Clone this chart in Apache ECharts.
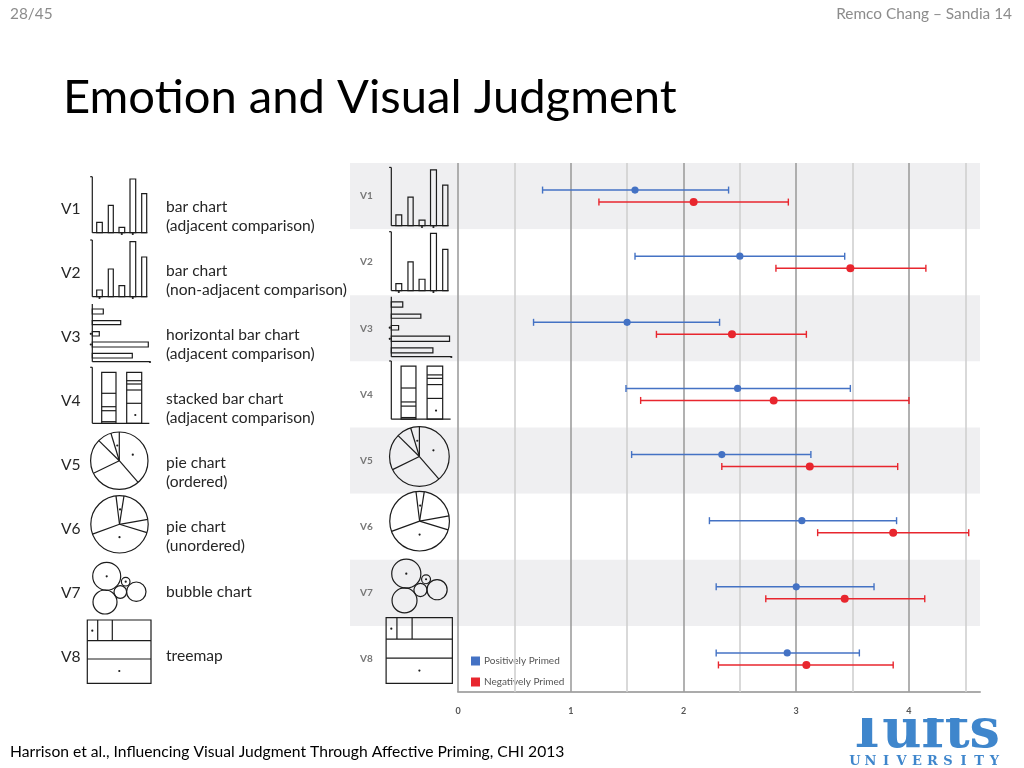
<!DOCTYPE html>
<html><head><meta charset="utf-8">
<script src="https://cdn.jsdelivr.net/npm/echarts@6/dist/echarts.min.js"></script>
<style>html,body{margin:0;padding:0;background:#fff}#c{width:1024px;height:768px}</style>
</head><body><div id="c"></div><script>
// ---------------- data ----------------
const rows = ['V1','V2','V3','V4','V5','V6','V7','V8'];
const descriptions = [
  ['bar chart','(adjacent comparison)'],
  ['bar chart','(non-adjacent comparison)'],
  ['horizontal bar chart','(adjacent comparison)'],
  ['stacked bar chart','(adjacent comparison)'],
  ['pie chart','(ordered)'],
  ['pie chart','(unordered)'],
  ['bubble chart'],
  ['treemap']
];
const seriesNames = ['Positively Primed','Negatively Primed'];
const posMean = [1.57, 2.50, 1.50, 2.48, 2.34, 3.05, 3.00, 2.92];
const posLow  = [0.75, 1.57, 0.67, 1.49, 1.54, 2.23, 2.29, 2.29];
const posHigh = [2.40, 3.43, 2.32, 3.48, 3.13, 3.89, 3.69, 3.56];
const negMean = [2.09, 3.48, 2.43, 2.80, 3.12, 3.86, 3.43, 3.09];
const negLow  = [1.25, 2.82, 1.76, 1.62, 2.34, 3.19, 2.73, 2.31];
const negHigh = [2.93, 4.15, 3.09, 4.00, 3.90, 4.53, 4.14, 3.86];
const xTicks = [0, 1, 2, 3, 4];
const gridValues = [0, 0.5, 1, 1.5, 2, 2.5, 3, 3.5, 4, 4.5];
const slideTitle = 'Emotion and Visual Judgment';
const pageLabel = '28/45';
const headerRight = 'Remco Chang \u2013 Sandia 14';
const footer = 'Harrison et al., Influencing Visual Judgment Through Affective Priming, CHI 2013';
const logoWord = 'Tufts';
const logoSub = 'UNIVERSITY';

// ---------------- pictograms (decorative) ----------------
const icons = [
  [['L',0.3,0.7,0.3,56.7],['L',0.3,56.7,55.3,56.7],['L',-1.8,0.7,0.3,0.7],
   ['R',4.7,46.3,5.6,10.4],['R',16.3,29.3,5,27.4],['R',27,51.3,5.7,5.4],['R',38,3,5.7,53.7],['R',49.7,17.7,5,39],
   ['D',29.8,58],['D',40.8,58]],
  [['L',0.3,0,0.3,56.7],['L',0.3,56.7,55.3,56.7],['L',-1.8,0,0.3,0],
   ['R',4.7,50,5.6,6.7],['R',16.3,29,5,27.7],['R',27,45.7,5.7,11],['R',38,1.7,5.7,55],['R',49.7,17,5,39.7],
   ['D',7.5,58],['D',40.8,58]],
  [['L',0.3,0,0.3,57.7],['L',0.3,57.7,58,57.7],
   ['R',0.3,5,11,5],['R',0.3,16.7,28.4,4],['R',0.3,27.7,7,4.3],['R',0.3,38,56,5],['R',0.3,49.3,40,4.7],
   ['D',-1.2,29.8],['D',-1.2,40.5],['D',58,58]],
  [['L',0.3,-0.7,0.3,55.3],['L',0.3,55.3,57.3,55.3],['L',-1.8,-0.7,0.3,-0.7],
   ['R',9.7,4.3,14.3,51],['L',9.7,25.3,24,25.3],['L',9.7,38.7,24,38.7],['L',9.7,42.7,24,42.7],['L',9.7,53.7,24,53.7],
   ['R',34.7,4.3,15,51],['L',34.7,12.7,49.7,12.7],['L',34.7,16,49.7,16],['L',34.7,22,49.7,22],['L',34.7,35.3,49.7,35.3],
   ['D',43.3,47]],
  [['P',27.3,28.7,28.7,[-90,-107,-135.5,154,49],[[0.47,-0.21],[-0.07,-0.53]]]],
  [['P',27.5,28.3,28.7,[-97,-81,-10,17,160],[[0,0.45],[0.02,-0.52]]]],
  [['C',14.7,16.3,14],['C',13,42,12],['C',28.3,32,6.3],['C',33.7,21.7,4.3],['C',44.3,31.7,9.7],
   ['D',14.7,16.3],['D',33.7,21.7]],
  [['R',-4.7,-4,63.7,63.3],['L',-4.7,16.7,59,16.7],['L',-4.7,35,59,35],['L',5.7,-4,5.7,16.7],['L',20.3,-4,20.3,16.7],
   ['D',0.3,6.7],['D',27.3,47]]
];
const ink = '#1c1c1c';
function drawIcon(shapes, ox, oy, s) {
  const out = [];
  const st = {stroke: ink, lineWidth: 1.2, fill: null};
  shapes.forEach(p => {
    if (p[0] === 'L') out.push({type:'line', z:10, shape:{x1:ox+p[1]*s, y1:oy+p[2]*s, x2:ox+p[3]*s, y2:oy+p[4]*s}, style:Object.assign({}, st)});
    else if (p[0] === 'R') out.push({type:'rect', z:10, shape:{x:ox+p[1]*s, y:oy+p[2]*s, width:p[3]*s, height:p[4]*s}, style:Object.assign({}, st, {fill:'none'})});
    else if (p[0] === 'C') out.push({type:'circle', z:10, shape:{cx:ox+p[1]*s, cy:oy+p[2]*s, r:p[3]*s}, style:Object.assign({}, st, {fill:'none'})});
    else if (p[0] === 'D') out.push({type:'circle', z:11, shape:{cx:ox+p[1]*s, cy:oy+p[2]*s, r:1.1}, style:{fill: ink}});
    else if (p[0] === 'P') {
      const cx = ox+p[1]*s, cy = oy+p[2]*s, r = p[3]*s;
      out.push({type:'circle', z:10, shape:{cx, cy, r}, style:Object.assign({}, st, {fill:'none'})});
      p[4].forEach(a => {
        const t = a*Math.PI/180;
        out.push({type:'line', z:10, shape:{x1:cx, y1:cy, x2:cx+r*Math.cos(t), y2:cy+r*Math.sin(t)}, style:Object.assign({}, st)});
      });
      p[5].forEach(d => out.push({type:'circle', z:11, shape:{cx:cx+d[0]*r, cy:cy+d[1]*r, r:1.1}, style:{fill: ink}}));
    }
  });
  return out;
}

// ---------------- text fitting ----------------
const ctx = document.createElement('canvas').getContext('2d');
function fit(text, family, weight, w) {
  ctx.font = weight + ' 100px ' + family;
  return 100 * w / ctx.measureText(text).width;
}
const FF = 'Lato';
// place text by its alphabetic baseline (zrender draws with the em-box middle)
function txt(text, x, base, size, opts) {
  const o = Object.assign({family: FF, weight: 'normal', fill: '#000', align: 'left', mid: 0.3225, z: 10}, opts || {});
  return {type:'text', z:o.z, style:{text, x, y: base - o.mid * size, align: o.align, verticalAlign: 'middle',
    font: o.weight + ' ' + size + 'px ' + o.family, fill: o.fill}};
}
const titleSize = fit(slideTitle, FF, 'normal', 614);
const descSize = fit('(non-adjacent comparison)', FF, 'normal', 181);
const footSize = fit(footer, FF, 'normal', 555);
const headSize = fit(headerRight, FF, 'normal', 176);
const logoSize = fit(logoWord, '"DejaVu Serif"', 'bold', 153);

const graphics = [];
graphics.push(txt(slideTitle, 63, 113, titleSize));
graphics.push(txt(pageLabel, 10, 19, headSize, {fill:'#8c8c8c'}));
graphics.push(txt(headerRight, 1012, 19, headSize, {fill:'#8c8c8c', align:'right'}));
graphics.push(txt(footer, 10, 757, footSize));

rows.forEach((r, i) => {
  const vBase = 214 + 63.96 * i;
  graphics.push(txt(r, 61, vBase, descSize, {fill:'#262626'}));
  const d = descriptions[i];
  if (d.length === 2) {
    graphics.push(txt(d[0], 166, vBase - 1.5, descSize, {fill:'#262626'}));
    graphics.push(txt(d[1], 166, vBase + 17.5, descSize, {fill:'#262626'}));
  } else {
    graphics.push(txt(d[0], 166, vBase - 1, descSize, {fill:'#262626'}));
  }
  drawIcon(icons[i], 92, 176 + 64 * i, 1).forEach(g => graphics.push(g));
  drawIcon(icons[i], 391, 166.7 + 65 * i, 1.04).forEach(g => graphics.push(g));
});

// logo
const logoBlue = '#3f86cc';
graphics.push(txt(logoWord, 847, 749, logoSize, {family:'"DejaVu Serif"', weight:'bold', fill: logoBlue, mid: 0.3, z: -3}));
graphics.push({type:'rect', z:-2, shape:{x:835, y:695, width:180, height:23}, style:{fill:'#fff'}});
logoSub.split('').forEach((ch, k) => {
  graphics.push(txt(ch, 855 + k * 15.5, 766, 13, {family:'"DejaVu Serif"', weight:'bold', fill: logoBlue, align:'center', mid: 0.3}));
});

// ---------------- chart ----------------
const blue = '#4472c4', red = '#e8262e';
function errRender(offset, color, r) {
  return function (params, api) {
    const lo = api.coord([api.value(0), api.value(3)]);
    const hi = api.coord([api.value(2), api.value(3)]);
    const m = api.coord([api.value(1), api.value(3)]);
    const y = lo[1] + offset;
    const ls = {stroke: color, lineWidth: 1.4};
    return {type:'group', children:[
      {type:'line', shape:{x1:lo[0], y1:y, x2:hi[0], y2:y}, style:ls},
      {type:'line', shape:{x1:lo[0], y1:y-3.5, x2:lo[0], y2:y+3.5}, style:ls},
      {type:'line', shape:{x1:hi[0], y1:y-3.5, x2:hi[0], y2:y+3.5}, style:ls},
      {type:'circle', shape:{cx:m[0], cy:y, r:r}, style:{fill: color}}
    ]};
  };
}
const posData = rows.map((n, i) => [posLow[i], posMean[i], posHigh[i], i]);
const negData = rows.map((n, i) => [negLow[i], negMean[i], negHigh[i], i]);

const option = {
  animation: false,
  backgroundColor: '#fff',
  textStyle: {fontFamily: FF},
  grid: [
    {left: 350, right: 44, top: 163, bottom: 76},
    {left: 458, right: 44, top: 163, bottom: 76}
  ],
  xAxis: [
    {gridIndex: 0, type: 'value', show: false, min: 0, max: 1},
    {gridIndex: 1, type: 'value', min: 0, max: 4.63, interval: 1,
     axisLine: {show: true, lineStyle: {color: '#ababab', width: 2}},
     axisTick: {show: false}, splitLine: {show: false},
     axisLabel: {margin: 15, color: '#555', fontSize: 9, fontWeight: 'bold', showMaxLabel: false,
       formatter: v => (xTicks.indexOf(v) >= 0 ? String(v) : '')}}
  ],
  yAxis: [
    {gridIndex: 0, type: 'category', data: rows, inverse: true,
     axisLine: {show: false}, axisTick: {show: false},
     axisLabel: {inside: true, margin: 10, color: '#777', fontSize: 10, fontWeight: 'bold'},
     splitLine: {show: false},
     splitArea: {show: true, areaStyle: {color: ['#efeff1', '#ffffff']}}},
    {gridIndex: 1, type: 'category', data: rows, inverse: true, show: false}
  ],
  legend: {
    data: seriesNames, orient: 'vertical', left: 466, top: 651,
    itemWidth: 9, itemHeight: 9, itemGap: 11, icon: 'rect',
    textStyle: {fontSize: 10, color: '#555', fontFamily: FF, padding: [0, 0, 0, -1]}
  },
  graphic: {elements: graphics},
  series: [
    {type: 'custom', name: 'grid', xAxisIndex: 1, yAxisIndex: 1, z: 1, silent: true,
     data: [[0, 0, 0, 0]], renderItem: () => null,
     markLine: {silent: true, symbol: 'none', label: {show: false},
       data: gridValues.map(v => ({xAxis: v, lineStyle: {color: (v % 1 === 0) ? '#9e9e9e' : '#d0d0d0', width: 1.6, type: 'solid'}}))}},
    {type: 'custom', name: seriesNames[0], xAxisIndex: 1, yAxisIndex: 1, z: 5,
     itemStyle: {color: blue}, encode: {x: [0, 1, 2], y: 3},
     data: posData, renderItem: errRender(-6, blue, 3.6)},
    {type: 'custom', name: seriesNames[1], xAxisIndex: 1, yAxisIndex: 1, z: 5,
     itemStyle: {color: red}, encode: {x: [0, 1, 2], y: 3},
     data: negData, renderItem: errRender(6, red, 4)}
  ]
};
echarts.init(document.getElementById('c')).setOption(option);
</script></body></html>
